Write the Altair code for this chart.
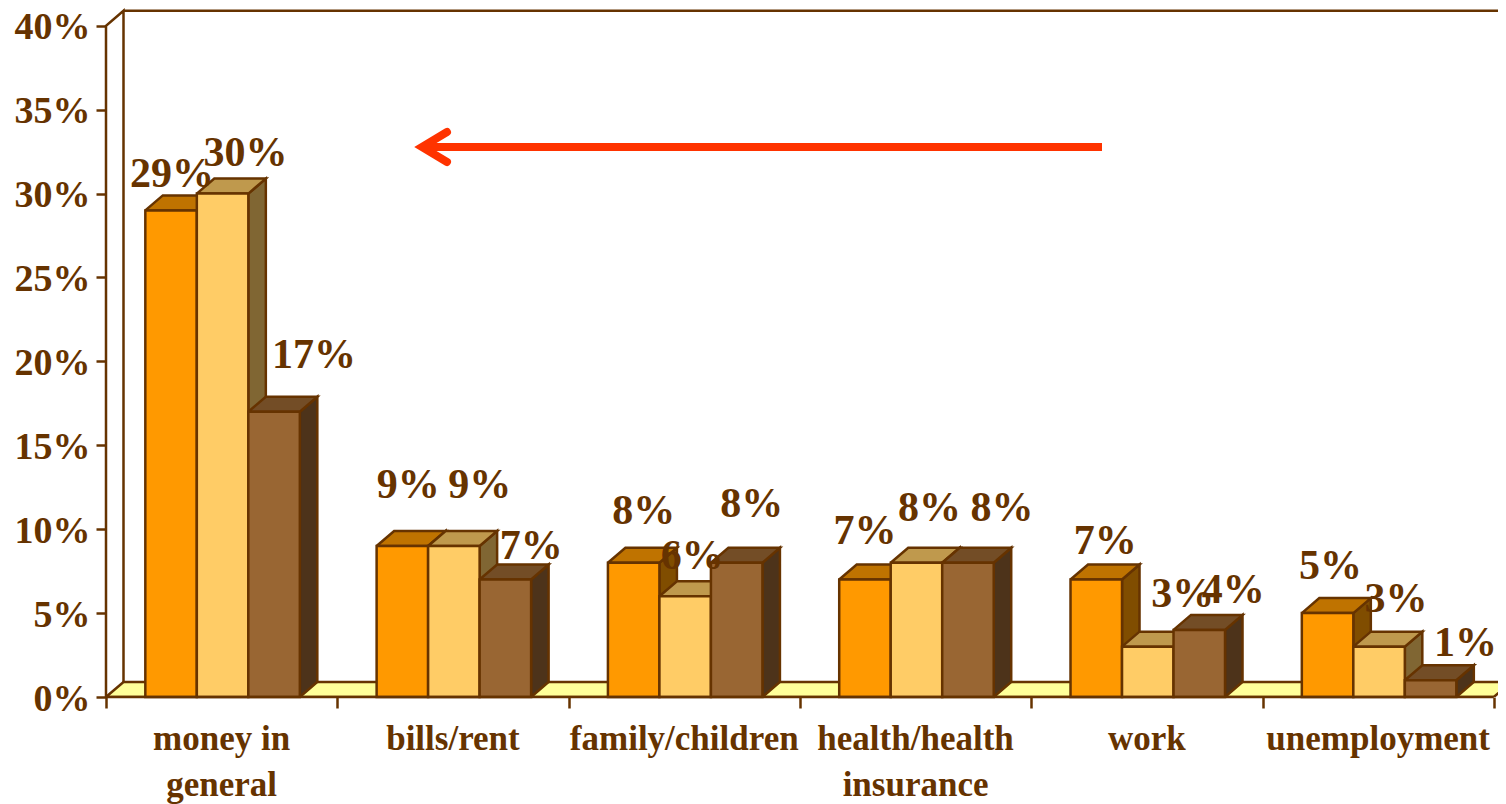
import altair as alt
import pandas as pd

# ---- chart values ----
categories = ["money in\ngeneral", "bills/rent", "family/children",
              "health/health\ninsurance", "work", "unemployment"]
series_a = [29, 9, 8, 7, 7, 5]
series_b = [30, 9, 6, 8, 3, 3]
series_c = [17, 7, 8, 8, 4, 1]
front_colors = ["#FF9900", "#FFCC66", "#996633"]
top_colors = ["#BF7300", "#BF994D", "#734D26"]
side_colors = ["#804D00", "#806633", "#4D331A"]
# label nudges from each bar's top centre, in screen pixels (right, up)
nudge_a = [(1, 36), (6, 61), (10, 52), (0, 49), (9, 39), (3, 47)]
nudge_b = [(23, 41), (26, 61), (7, 40), (13, 55), (35, 53), (17, 48)]
nudge_c = [(40, 57), (26, 34), (15, 59), (34, 55), (34, 40), (35, 37)]
y_ticks = [0, 5, 10, 15, 20, 25, 30, 35, 40]

# ---- scale geometry ----
PX_X = 231.3          # pixels per category
PX_Y = 16.78          # pixels per percent
W, H = 1392, 686
X_MAX = W / PX_X
Y_MAX = H / PX_Y
DX = 17.5 / PX_X      # oblique depth in x units
DY = 15 / PX_Y        # oblique depth in y units
BAR = 51.5 / PX_X
START = 0.170
INK = "#663300"
RED = "#FF3300"
FONT = "Liberation Serif"
LINE = 2.5

bars, labels = [], []
all_series = [series_a, series_b, series_c]
all_nudges = [nudge_a, nudge_b, nudge_c]


def poly(rows, key, pts, fill):
    for i, (x, y) in enumerate(pts + pts[:1]):
        rows.append(dict(key=key, i=i, x=x, y=y, fill=fill))


tops, sides = [], []
for s, vals in enumerate(all_series):
    for g, v in enumerate(vals):
        L = g + START + s * BAR
        R = L + BAR
        key = f"{g}-{s}"
        bars.append(dict(l=L, r=R, v=v, fill=front_colors[s], base=0))
        poly(tops, key, [(L, v), (R, v), (R + DX, v + DY), (L + DX, v + DY)], top_colors[s])
        poly(sides, key, [(R, 0), (R + DX, DY), (R + DX, v + DY), (R, v)], side_colors[s])
        nx, ny = all_nudges[s][g]
        labels.append(dict(x=(L + R) / 2 + nx / PX_X, y=v + ny / PX_Y, text=f"{v}%"))

floor_rows = []
poly(floor_rows, "floor", [(0, 0), (6, 0), (6 + DX, DY), (DX, DY)], "#FFFF99")
walls = pd.DataFrame(
    [dict(p="a", i=i, x=x, y=y) for i, (x, y) in enumerate(
        [(0, 0), (0, 40), (DX, 40 + DY), (DX, DY)])] +
    [dict(p="b", i=i, x=x, y=y) for i, (x, y) in enumerate(
        [(DX, 40 + DY), (X_MAX, 40 + DY)])]
)
cat_df = pd.DataFrame(dict(x=[i + 0.5 for i in range(6)], text=categories))

ARROW_Y = (697 - 147) / PX_Y
arrow_shaft = pd.DataFrame(dict(x=[(1102 - 106) / PX_X, (425 - 106) / PX_X], y=[ARROW_Y] * 2))
arrow_head = pd.DataFrame(dict(
    i=[0, 1, 2],
    x=[(447 - 106) / PX_X, (422 - 106) / PX_X, (447 - 106) / PX_X],
    y=[ARROW_Y + 15 / PX_Y, ARROW_Y, ARROW_Y - 15 / PX_Y],
))

xs = alt.Scale(domain=[0, X_MAX], nice=False, zero=False)
ys = alt.Scale(domain=[0, Y_MAX], nice=False)
X_AXIS = alt.Axis(
    orient="bottom", values=list(range(7)), labels=False, title=None, grid=False,
    domain=False, ticks=True, tickSize=11, tickColor=INK, tickWidth=LINE)
Y_AXIS = alt.Axis(
    orient="left", values=y_ticks, title=None, grid=False, domain=False,
    tickSize=10, tickColor=INK, tickWidth=LINE, labelPadding=6, labelOffset=2,
    labelExpr="datum.value + '%'", labelFont=FONT, labelFontWeight="bold",
    labelFontSize=38, labelColor=INK, labelOverlap=False, labelBound=False, labelFlush=False)
X = alt.X("x:Q", scale=xs, axis=X_AXIS)
Y = alt.Y("y:Q", scale=ys, axis=Y_AXIS)


def polygon_layer(rows, clip=False):
    return alt.Chart(pd.DataFrame(rows)).mark_line(
        stroke=INK, strokeWidth=LINE, strokeJoin="miter", clip=clip,
    ).encode(
        x=X, y=Y, detail="key:N", order="i:Q",
        fill=alt.Fill("fill:N", scale=None),
    )


floor_layer = polygon_layer(floor_rows, clip=True)
wall_layer = alt.Chart(walls).mark_line(color=INK, strokeWidth=LINE).encode(
    x=X, y=Y, detail="p:N", order="i:Q")
baseline = alt.Chart(pd.DataFrame(dict(x=[0, 6], y=[0, 0]))).mark_line(color=INK, strokeWidth=LINE).encode(x=X, y=Y)

side_layer = polygon_layer(sides)
top_layer = polygon_layer(tops)
front_layer = alt.Chart(pd.DataFrame(bars)).mark_rect(stroke=INK, strokeWidth=LINE).encode(
    x=alt.X("l:Q", scale=xs, axis=X_AXIS),
    x2="r:Q",
    y=alt.Y("v:Q", scale=ys, axis=Y_AXIS),
    y2="base:Q",
    color=alt.Color("fill:N", scale=None),
)
label_layer = alt.Chart(pd.DataFrame(labels)).mark_text(
    font=FONT, fontWeight="bold", fontSize=42, color=INK, baseline="middle", align="center"
).encode(x=X, y=Y, text="text:N")
cat_layer = alt.Chart(cat_df).mark_text(
    font=FONT, fontWeight="bold", fontSize=35, color=INK, baseline="alphabetic", align="center",
    lineBreak="\n", lineHeight=46,
).encode(x=X, y=alt.value(H + 53), text="text:N")
shaft = alt.Chart(arrow_shaft).mark_line(color=RED, strokeWidth=8).encode(x=X, y=Y)
head = alt.Chart(arrow_head).mark_line(color=RED, strokeWidth=8, strokeCap="round", strokeJoin="miter").encode(
    x=X, y=Y, order="i:Q")

chart = alt.layer(
    floor_layer, wall_layer, side_layer, top_layer, front_layer, baseline,
    label_layer, cat_layer, shaft, head,
).properties(
    width=W, height=H,
    padding={"left": 98, "top": 3, "right": 0, "bottom": 107},
    autosize=alt.AutoSizeParams(type="none"),
    background="white",
).configure_view(stroke=None)

chart.save("out.html", embed_options={"renderer": "svg", "actions": False})
